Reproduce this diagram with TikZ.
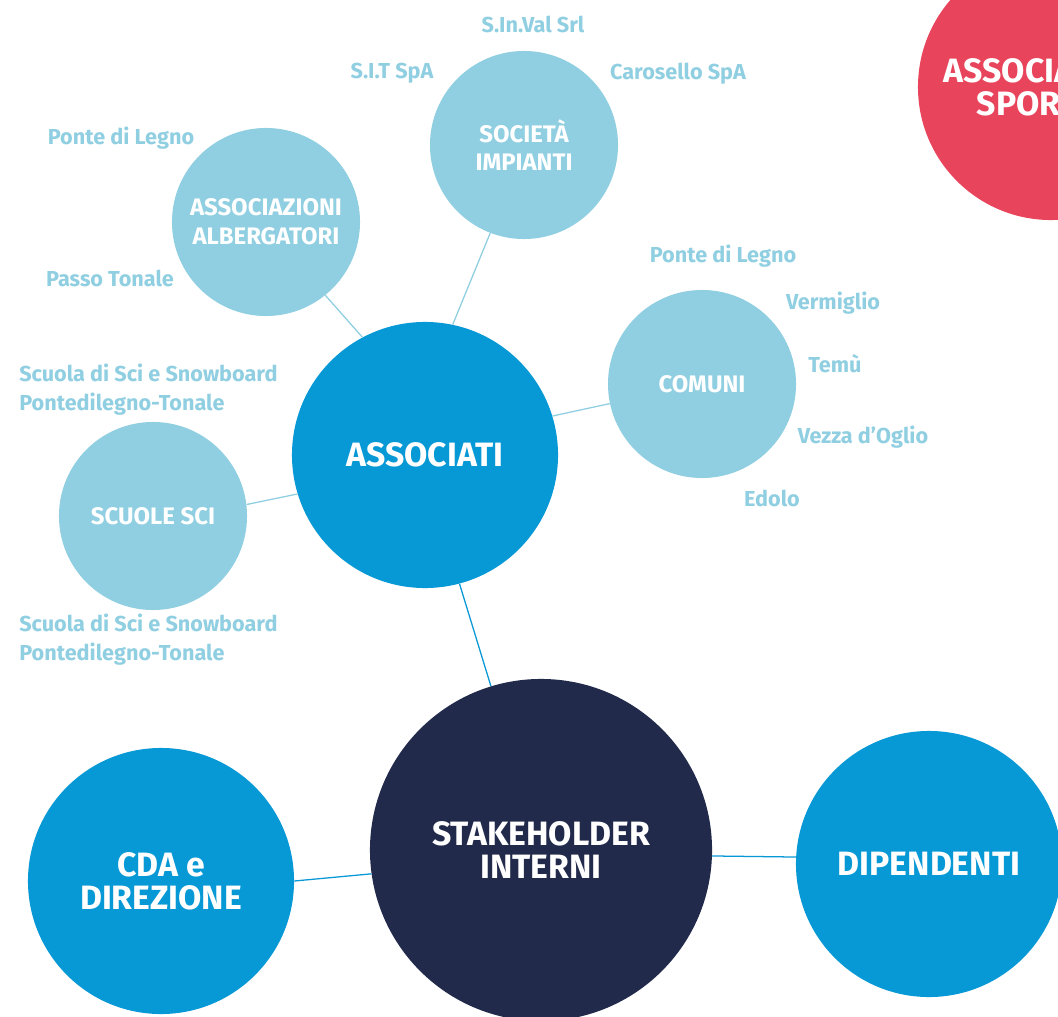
\documentclass[tikz,border=0pt]{standalone}
\usepackage{fontspec}
\setmainfont{Fira Sans}
\definecolor{celeste}{HTML}{8FCFE1}
\definecolor{azzurro}{HTML}{0798D6}
\definecolor{notte}{HTML}{212A4B}
\definecolor{rosso}{HTML}{E8445B}

\begin{document}
\begin{tikzpicture}[x=0.025cm,y=-0.025cm,
    bolla/.style={circle, inner sep=0pt, text=white, align=center},
    grande/.style={bolla, minimum size=6.65cm, fill=azzurro, font=\fontsize{24}{23.5}\selectfont\bfseries},
    piccola/.style={bolla, minimum size=4.7cm, fill=celeste, font=\fontsize{17}{20.5}\selectfont\bfseries},
    voce/.style={text=celeste, inner sep=0pt, font=\fontsize{15.4}{20.5}\selectfont\bfseries},
    filo/.style={azzurro, line width=0.9pt},
    filino/.style={celeste, line width=0.9pt}]

    \useasboundingbox (0,0) rectangle (1058,1017);
    \clip (0,0) rectangle (1058,1017);
    \fill[white] (0,0) rectangle (1058,1017);

    % cerchi grandi
    \node[grande] (associati) at (425,455) {ASSOCIATI};
    \node[grande, fill=notte, minimum size=8.55cm] (interni) at (541,850) {STAKEHOLDER\\INTERNI};
    \node[grande] (cda) at (161,881) {CDA e\\DIREZIONE};
    \node[grande] (dipendenti) at (929,864) {DIPENDENTI};
    \node[grande, fill=rosso] (sportive) at (1051,87) {ASSOCIAZIONI\\SPORTIVE};

    % cerchi degli associati
    \node[piccola] (impianti) at (524,145) {SOCIETÀ\\IMPIANTI};
    \node[piccola] (albergatori) at (266,222) {ASSOCIAZIONI\\ALBERGATORI};
    \node[piccola] (comuni) at (702,384) {COMUNI};
    \node[piccola] (scuole) at (153,516) {SCUOLE SCI};

    % nomi
    \node[voce] (sinval) at (533,24) {S.In.Val Srl};
    \node[voce] (sit) at (392,73) {S.I.T SpA};
    \node[voce] (carosello) at (678,74) {Carosello SpA};
    \node[voce] (pontealb) at (121,138) {Ponte di Legno};
    \node[voce] (tonale) at (110,278) {Passo Tonale};
    \node[voce] (pontecom) at (723,256) {Ponte di Legno};
    \node[voce] (vermiglio) at (833,303) {Vermiglio};
    \node[voce] (temu) at (835,364) {Temù};
    \node[voce] (vezza) at (863,437) {Vezza d’Oglio};
    \node[voce] (edolo) at (772,498) {Edolo};
    \node[voce, anchor=west, align=left] (scuolasu) at (19,390) {Scuola di Sci e Snowboard\\Pontedilegno-Tonale};
    \node[voce, anchor=west, align=left] (scuolagiu) at (19,640) {Scuola di Sci e Snowboard\\Pontedilegno-Tonale};

    % collegamenti
    \draw[filo] (associati.285) -- (interni.107.5);
    \draw[filo] (cda.0) -- (interni.188);
    \draw[filo] (interni.358) -- (dipendenti.177);
    \draw[filino] (albergatori.309) -- (associati.118);
    \draw[filino] (impianti.249) -- (associati.78);
    \draw[filino] (comuni.192) -- (associati.17);
    \draw[filino] (scuole.7) -- (associati.197);

\end{tikzpicture}
\end{document}
